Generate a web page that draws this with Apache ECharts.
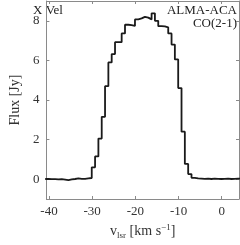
<!DOCTYPE html>
<html>
<head>
<meta charset="utf-8">
<script src="https://cdn.jsdelivr.net/npm/echarts@6/dist/echarts.min.js"></script>
<style>html,body{margin:0;padding:0;background:#fff}#c{width:240px;height:245px}</style>
</head>
<body>
<div id="c"></div>
<script>
// channel left edges (km/s)
var velEdges = [-40.88,-40.11,-39.34,-38.57,-37.80,-37.03,-36.26,-35.49,-34.72,-33.95,
  -33.18,-32.41,-31.64,-30.87,-30.10,-29.33,-28.56,-27.79,-27.02,-26.25,
  -25.48,-24.71,-23.94,-23.17,-22.40,-21.63,-20.86,-20.09,-19.32,-18.55,
  -17.78,-17.01,-16.24,-15.47,-14.70,-13.93,-13.16,-12.39,-11.62,-10.85,
  -10.08,-9.31,-8.54,-7.77,-7.00,-6.23,-5.46,-4.69,-3.92,-3.15,
  -2.38,-1.61,-0.84,-0.07,0.70,1.47,2.24,3.01,3.78,4.55];
// flux per channel (Jy)
var flux = [0.01,0.00,0.00,-0.01,0.00,-0.02,-0.05,-0.01,0.01,0.04,
  0.02,0.02,0.04,0.06,0.60,1.15,2.05,3.15,4.70,5.90,
  6.32,6.92,6.92,7.36,7.80,7.78,7.74,8.07,8.12,8.20,
  8.16,8.07,8.38,8.00,7.73,7.72,7.67,7.36,6.80,6.05,
  4.60,2.40,0.77,0.26,0.07,0.04,0.03,0.02,0.03,0.01,
  0.03,0.02,0.01,0.02,0.03,0.01,0.02,0.03,0.02];
var xTicks = [-40,-30,-20,-10,0];
var yTicks = [0,2,4,6,8];

var data = [];
for (var i = 0; i < velEdges.length; i++) {
  var f = i < flux.length ? flux[i] : flux[flux.length - 1];
  data.push([velEdges[i], f]);
}
var FF = 'Liberation Serif';
var axCol = '#8a8a8a';
var txtCol = '#333';
function xAx(pos, show) {
  return {
    type: 'value', position: pos, min: -40.6, max: 4,
    axisLine: {show: true, onZero: false, lineStyle: {color: axCol, width: 1}},
    axisTick: {show: true, inside: true, length: 3, customValues: xTicks, lineStyle: {color: axCol}},
    axisLabel: {show: show, customValues: xTicks, color: txtCol, fontFamily: FF, fontSize: 13, margin: 6},
    splitLine: {show: false}
  };
}
function yAx(pos, show) {
  return {
    type: 'value', position: pos, min: -1, max: 9,
    axisLine: {show: true, onZero: false, lineStyle: {color: axCol, width: 1}},
    axisTick: {show: true, inside: true, length: 3, customValues: yTicks, lineStyle: {color: axCol}},
    axisLabel: {show: show, customValues: yTicks, color: txtCol, fontFamily: FF, fontSize: 13, margin: 7},
    splitLine: {show: false}
  };
}
var xb = xAx('bottom', true);
xb.name = '{v|v}{s|lsr}{v| [km s}{p|−1}{v|]}';
xb.nameLocation = 'middle';
xb.nameGap = 24;
xb.nameTextStyle = {
  color: txtCol, fontFamily: FF, fontSize: 14,
  rich: {
    v: {fontFamily: FF, fontSize: 14, color: txtCol, verticalAlign: 'middle', lineHeight: 17},
    s: {fontFamily: FF, fontSize: 9, color: txtCol, verticalAlign: 'bottom', lineHeight: 17, padding: [5, 0, 0, 0]},
    p: {fontFamily: FF, fontSize: 9, color: txtCol, verticalAlign: 'top', lineHeight: 17, padding: [0, 0, 6, 0]}
  }
};
var yl = yAx('left', true);
yl.name = 'Flux [Jy]';
yl.nameLocation = 'middle';
yl.nameGap = 19;
yl.nameTextStyle = {color: txtCol, fontFamily: FF, fontSize: 14};

var chart = echarts.init(document.getElementById('c'), null, {renderer: 'canvas'});
chart.setOption({
  animation: false,
  backgroundColor: '#fff',
  grid: {left: 28, right: 1, top: 1, bottom: 35, containLabel: false},
  xAxis: [xb, xAx('top', false)],
  yAxis: [yl, yAx('right', false)],
  graphic: [
    {type: 'text', left: 33, top: 4, style: {text: 'X Vel', font: '13px "Liberation Serif"', fill: '#222'}},
    {type: 'text', right: 3, top: 4, style: {text: 'ALMA-ACA', font: '13px "Liberation Serif"', fill: '#222', textAlign: 'right'}},
    {type: 'text', right: 3, top: 17, style: {text: 'CO(2-1)', font: '13px "Liberation Serif"', fill: '#222', textAlign: 'right'}}
  ],
  series: [{
    type: 'line', step: 'end', data: data, xAxisIndex: 0, yAxisIndex: 0,
    showSymbol: false, clip: true,
    lineStyle: {color: '#1a1a1a', width: 1.8}
  }]
});
</script>
</body>
</html>
